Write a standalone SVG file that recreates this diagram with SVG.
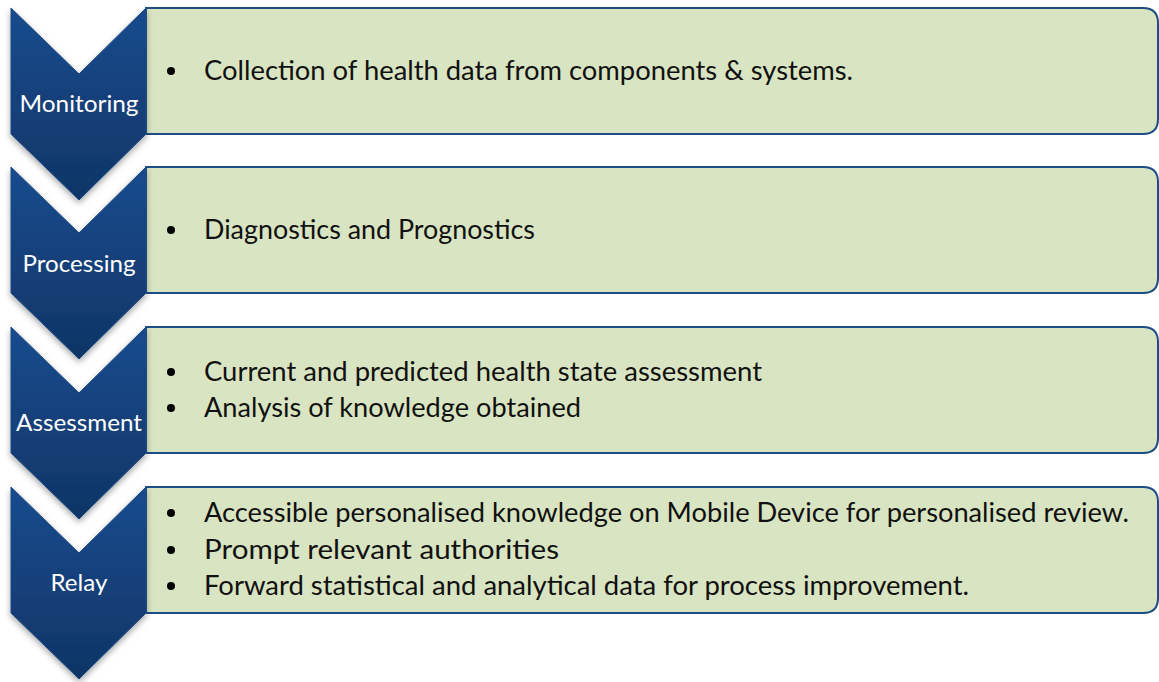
<svg xmlns="http://www.w3.org/2000/svg" width="1159" height="682" viewBox="0 0 1159 682">
  <defs>
    <linearGradient id="chevFill" x1="0" y1="0" x2="0" y2="1">
      <stop offset="0" stop-color="#1a4b8d"/>
      <stop offset="1" stop-color="#0f3566"/>
    </linearGradient>
    <filter id="shadow" x="-20%" y="-10%" width="140%" height="130%">
      <feDropShadow dx="0" dy="3" stdDeviation="3" flood-color="#000" flood-opacity="0.35"/>
    </filter>
  </defs>
  <style>
    .box { fill: #d9e4c2; stroke: #1f4e85; stroke-width: 2; }
    .chev { fill: url(#chevFill); stroke: #1d4b86; stroke-width: 1; filter: url(#shadow); }
    .label { font-family: Lato, "Open Sans", sans-serif; font-size: 23px; fill: #ffffff; text-anchor: middle; }
    .item { font-family: Lato, "Open Sans", sans-serif; font-size: 26px; fill: #111111; }
    .dot { fill: #000000; }
  </style>
  <rect width="1159" height="682" fill="#ffffff"/>

  <g id="connectors"></g>

  <!-- Stage 1: Monitoring -->
  <g id="monitoring">
    <path class="box" d="M146,8 H1143 Q1158,8 1158,23 V119 Q1158,134 1143,134 H146 Z"/>
    <path class="chev" d="M11,8 L79,74 L146,8 V134 L79,200 L11,134 Z"/>
    <text class="label" x="79" y="112" textLength="119" lengthAdjust="spacingAndGlyphs">Monitoring</text>
    <circle class="dot" cx="171" cy="71" r="4"/>
    <text class="item" x="204" y="80" textLength="649" lengthAdjust="spacingAndGlyphs">Collection of health data from components &amp; systems.</text>
  </g>

  <!-- Stage 2: Processing -->
  <g id="processing">
    <path class="box" d="M146,167 H1143 Q1158,167 1158,182 V278 Q1158,293 1143,293 H146 Z"/>
    <path class="chev" d="M11,167 L79,233 L146,167 V293 L79,359 L11,293 Z"/>
    <text class="label" x="79" y="272" textLength="113" lengthAdjust="spacingAndGlyphs">Processing</text>
    <circle class="dot" cx="171" cy="230" r="4"/>
    <text class="item" x="204" y="239" textLength="331" lengthAdjust="spacingAndGlyphs">Diagnostics and Prognostics</text>
  </g>

  <!-- Stage 3: Assessment -->
  <g id="assessment">
    <path class="box" d="M146,327 H1143 Q1158,327 1158,342 V438 Q1158,453 1143,453 H146 Z"/>
    <path class="chev" d="M11,327 L79,393 L146,327 V453 L79,519 L11,453 Z"/>
    <text class="label" x="79" y="431" textLength="126" lengthAdjust="spacingAndGlyphs">Assessment</text>
    <circle class="dot" cx="171" cy="372" r="4"/>
    <text class="item" x="204" y="381" textLength="558" lengthAdjust="spacingAndGlyphs">Current and predicted health state assessment</text>
    <circle class="dot" cx="171" cy="408" r="4"/>
    <text class="item" x="204" y="417" textLength="377" lengthAdjust="spacingAndGlyphs">Analysis of knowledge obtained</text>
  </g>

  <!-- Stage 4: Relay -->
  <g id="relay">
    <path class="box" d="M146,487 H1143 Q1158,487 1158,502 V598 Q1158,613 1143,613 H146 Z"/>
    <path class="chev" d="M11,487 L79,553 L146,487 V613 L79,679 L11,613 Z"/>
    <text class="label" x="79" y="591" textLength="57" lengthAdjust="spacingAndGlyphs">Relay</text>
    <circle class="dot" cx="171" cy="513" r="4"/>
    <text class="item" x="204" y="522" textLength="925" lengthAdjust="spacingAndGlyphs">Accessible personalised knowledge on Mobile Device for personalised review.</text>
    <circle class="dot" cx="171" cy="550" r="4"/>
    <text class="item" x="204" y="559" textLength="355" lengthAdjust="spacingAndGlyphs">Prompt relevant authorities</text>
    <circle class="dot" cx="171" cy="586" r="4"/>
    <text class="item" x="204" y="595" textLength="765" lengthAdjust="spacingAndGlyphs">Forward statistical and analytical data for process improvement.</text>
  </g>
</svg>
